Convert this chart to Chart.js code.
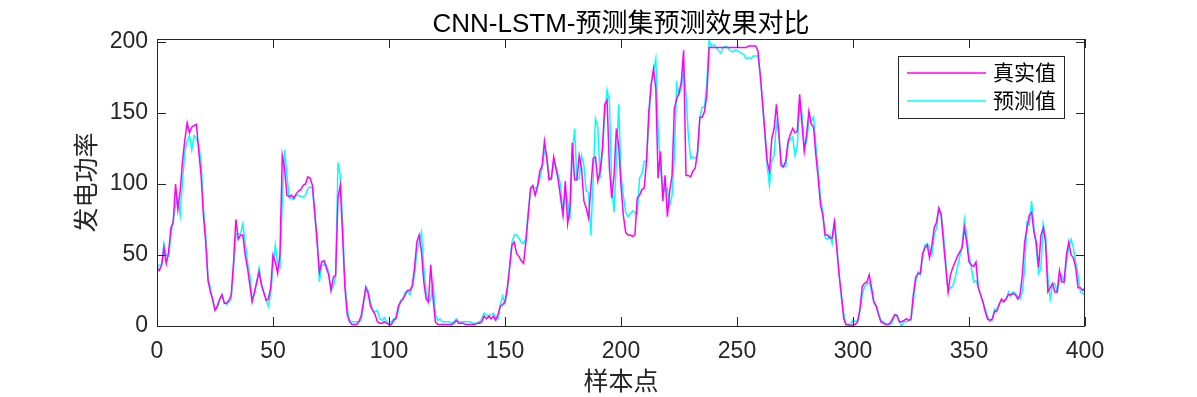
<!DOCTYPE html>
<html>
<head>
<meta charset="utf-8">
<script src="https://cdn.jsdelivr.net/npm/chart.js@4.4.1/dist/chart.umd.min.js"></script>
<style>
  body { margin: 0; background: #fff; }
  canvas { display: block; }
</style>
</head>
<body>
<canvas id="forecast-chart" width="1197" height="397"></canvas>
<script>
// textos
const chartTitle = "CNN-LSTM-预测集预测效果对比";
const xLabel = "样本点";
const yLabel = "发电功率";
const seriesNames = ["真实值", "预测值"];
const seriesColors = ["#ff00ff", "#00ffff"];

// ticks
const xTicks = [0, 50, 100, 150, 200, 250, 300, 350, 400];
const yTicks = [0, 50, 100, 150, 200];

// valores reais (magenta)
const realValues = [
  41, 39, 43, 55, 44, 52, 69, 73, 100, 82,
  95, 116, 131, 143, 136, 140, 141, 142, 123, 106,
  78, 59, 32, 24, 19, 11, 14, 19, 22, 16,
  16, 18, 22, 45, 75, 61, 64, 64, 50, 41,
  29, 17, 24, 31, 38, 29, 24, 18, 19, 27,
  50, 45, 37, 50, 120, 111, 92, 91, 92, 90,
  93, 95, 96, 99, 100, 105, 104, 99, 80, 59,
  38, 45, 46, 41, 36, 25, 34, 36, 90, 99,
  64, 27, 8, 3, 1, 1, 1, 3, 7, 17,
  27, 23, 14, 11, 8, 3, 2, 2, 3, 2,
  1, 1, 4, 5, 14, 17, 19, 22, 25, 25,
  28, 41, 59, 64, 52, 31, 19, 17, 43, 19,
  3, 1, 1, 1, 1, 1, 1, 1, 2, 4,
  2, 2, 2, 1, 1, 1, 1, 1, 2, 2,
  3, 7, 5, 7, 5, 7, 4, 8, 14, 15,
  17, 27, 41, 57, 59, 51, 49, 46, 44, 59,
  78, 97, 99, 92, 98, 109, 113, 130, 118, 103,
  104, 119, 111, 102, 90, 78, 102, 72, 83, 129,
  103, 103, 120, 111, 88, 83, 76, 97, 118, 119,
  102, 109, 125, 156, 159, 111, 90, 106, 139, 127,
  99, 78, 66, 64, 64, 63, 64, 90, 92, 96,
  97, 116, 151, 170, 181, 167, 104, 123, 88, 106,
  77, 95, 106, 153, 160, 164, 172, 194, 106, 106,
  105, 109, 111, 123, 147, 147, 151, 163, 196, 196,
  196, 196, 196, 196, 196, 196, 196, 196, 196, 196,
  196, 196, 196, 196, 196, 197, 197, 197, 197, 194,
  177, 158, 137, 116, 109, 132, 139, 156, 137, 113,
  112, 116, 130, 135, 139, 136, 137, 163, 142, 123,
  135, 151, 142, 140, 120, 104, 85, 78, 64, 64,
  62, 62, 73, 55, 36, 22, 5, 1, 1, 0,
  1, 1, 3, 12, 28, 30, 31, 36, 27, 17,
  14, 8, 3, 2, 1, 1, 2, 5, 8, 7,
  3, 3, 4, 5, 4, 5, 22, 34, 37, 37,
  51, 55, 57, 48, 57, 69, 73, 83, 78, 59,
  41, 24, 36, 41, 45, 49, 52, 55, 69, 59,
  45, 43, 42, 45, 27, 22, 17, 10, 5, 4,
  5, 10, 11, 15, 19, 17, 19, 22, 22, 23,
  22, 19, 22, 36, 59, 69, 78, 80, 66, 59,
  41, 64, 69, 59, 24, 27, 30, 24, 24, 39,
  31, 31, 50, 59, 50, 48, 41, 27, 27, 25,
  27
];

// valores previstos (ciano)
const predictedValues = [
  41, 43, 43, 58, 50, 49, 64, 75, 85, 90,
  78, 102, 123, 130, 134, 124, 134, 132, 127, 116,
  83, 64, 34, 27, 17, 12, 13, 18, 22, 17,
  15, 17, 19, 41, 64, 65, 65, 72, 59, 45,
  36, 19, 22, 31, 41, 30, 23, 19, 14, 23,
  41, 57, 43, 41, 88, 124, 106, 90, 90, 89,
  92, 92, 91, 91, 92, 97, 98, 97, 78, 64,
  31, 43, 43, 43, 38, 25, 28, 34, 115, 106,
  73, 31, 12, 4, 3, 3, 3, 3, 4, 15,
  28, 25, 17, 11, 10, 11, 5, 4, 6, 3,
  2, 3, 5, 6, 10, 18, 19, 24, 25, 22,
  27, 36, 52, 59, 66, 41, 24, 16, 19, 31,
  8, 4, 5, 3, 3, 3, 3, 2, 3, 5,
  3, 3, 3, 3, 3, 3, 2, 2, 2, 3,
  5, 9, 8, 7, 8, 9, 6, 5, 15, 21,
  16, 24, 43, 59, 64, 64, 62, 59, 58, 62,
  80, 95, 98, 97, 98, 104, 111, 123, 121, 104,
  103, 116, 111, 106, 99, 77, 97, 88, 75, 120,
  139, 103, 104, 120, 113, 95, 94, 64, 104, 146,
  140, 104, 123, 149, 166, 158, 99, 80, 116, 156,
  106, 92, 80, 77, 79, 81, 80, 79, 104, 107,
  116, 116, 144, 170, 179, 188, 139, 111, 99, 95,
  97, 85, 92, 120, 170, 163, 167, 181, 163, 135,
  118, 119, 118, 120, 147, 154, 154, 172, 201, 197,
  198, 196, 194, 192, 196, 197, 196, 194, 193, 194,
  194, 193, 192, 191, 188, 189, 188, 190, 190, 190,
  177, 156, 135, 113, 99, 116, 120, 143, 135, 116,
  112, 112, 127, 132, 133, 120, 127, 158, 149, 125,
  130, 144, 144, 147, 127, 109, 90, 80, 62, 61,
  64, 58, 76, 57, 38, 19, 9, 0, 0, 2,
  4, 3, 4, 10, 22, 28, 29, 31, 24, 16,
  14, 9, 4, 3, 2, 1, 1, 3, 7, 8,
  3, 0, 3, 3, 4, 4, 17, 31, 38, 36,
  48, 57, 58, 55, 50, 64, 69, 83, 79, 64,
  45, 24, 27, 28, 34, 41, 49, 55, 75, 64,
  50, 41, 31, 32, 27, 22, 17, 12, 7, 3,
  4, 12, 10, 16, 18, 17, 19, 24, 21, 24,
  23, 21, 19, 24, 41, 73, 71, 88, 69, 55,
  37, 41, 72, 64, 34, 19, 29, 30, 24, 31,
  36, 31, 45, 55, 61, 55, 45, 36, 24, 23,
  22
];

// fontes
const latinFont = '"Liberation Sans", Arial, sans-serif';
const cjkFont = '"Liberation Sans", "Noto Sans CJK SC", sans-serif';
const axisColor = "#262626";

function toPoints(values) {
  return values.map((value, index) => ({ x: index, y: value }));
}

// plugin: moldura, ticks para dentro, titulo, rotulos e legenda
const matlabFrame = {
  id: "matlabFrame",
  afterDraw(chart) {
    const { ctx, chartArea, scales } = chart;
    const { left, right, top, bottom } = chartArea;
    const tickLen = 9;

    ctx.save();
    ctx.strokeStyle = axisColor;
    ctx.lineWidth = 1;
    ctx.strokeRect(left + 0.5, top + 0.5, right - left - 1, bottom - top);

    ctx.beginPath();
    for (const tick of xTicks) {
      const px = Math.round(scales.x.getPixelForValue(tick)) + 0.5;
      ctx.moveTo(px, bottom);
      ctx.lineTo(px, bottom - tickLen);
      ctx.moveTo(px, top);
      ctx.lineTo(px, top + tickLen);
    }
    for (const tick of yTicks) {
      const py = Math.round(scales.y.getPixelForValue(tick)) + 0.5;
      ctx.moveTo(left, py);
      ctx.lineTo(left + tickLen, py);
      ctx.moveTo(right, py);
      ctx.lineTo(right - tickLen, py);
    }
    ctx.stroke();

    // titulo
    const centerX = (left + right) / 2;
    ctx.fillStyle = "#000";
    ctx.textAlign = "center";
    ctx.textBaseline = "alphabetic";
    ctx.font = "26px " + cjkFont;
    ctx.fillText(chartTitle, centerX, 32);

    // rotulos dos eixos
    ctx.fillStyle = axisColor;
    ctx.textBaseline = "middle";
    ctx.font = "25px " + cjkFont;
    ctx.fillText(xLabel, centerX, 383);
    ctx.save();
    ctx.translate(88, (top + bottom) / 2);
    ctx.rotate(-Math.PI / 2);
    ctx.fillText(yLabel, 0, 0);
    ctx.restore();

    // legenda
    const box = { x: 898, y: 56, w: 166, h: 62 };
    ctx.fillStyle = "#fff";
    ctx.fillRect(box.x, box.y, box.w, box.h);
    ctx.lineWidth = 1;
    ctx.strokeStyle = axisColor;
    ctx.strokeRect(box.x + 0.5, box.y + 0.5, box.w, box.h);
    ctx.font = "21px " + cjkFont;
    ctx.textAlign = "left";
    seriesNames.forEach((name, i) => {
      const rowY = 73 + i * 28;
      ctx.lineWidth = 1.5;
      ctx.strokeStyle = seriesColors[i];
      ctx.beginPath();
      ctx.moveTo(907, rowY);
      ctx.lineTo(986, rowY);
      ctx.stroke();
      ctx.fillStyle = "#000";
      ctx.fillText(name, 993, rowY + 1);
    });
    ctx.restore();
  },
};

const chartEl = document.getElementById("forecast-chart");

new Chart(chartEl, {
  type: "line",
  data: {
    datasets: [
      {
        label: seriesNames[0],
        data: toPoints(realValues),
        borderColor: seriesColors[0],
        borderWidth: 1.5,
        pointRadius: 0,
        tension: 0,
      },
      {
        label: seriesNames[1],
        data: toPoints(predictedValues),
        borderColor: seriesColors[1],
        borderWidth: 1.5,
        pointRadius: 0,
        tension: 0,
      },
    ],
  },
  options: {
    responsive: false,
    animation: false,
    events: [],
    layout: { padding: { left: 0, right: 112, top: 39, bottom: 0 } },
    plugins: {
      legend: { display: false },
      title: { display: false },
      tooltip: { enabled: false },
    },
    scales: {
      x: {
        type: "linear",
        min: 0,
        max: 400,
        afterFit: (scale) => { scale.height = 71; },
        afterBuildTicks: (scale) => { scale.ticks = xTicks.map((v) => ({ value: v })); },
        grid: { display: false, drawTicks: false },
        border: { display: false },
        ticks: {
          padding: 12,
          maxRotation: 0,
          autoSkip: false,
          color: axisColor,
          font: { family: latinFont, size: 23 },
        },
      },
      y: {
        min: 0,
        max: 202,
        afterFit: (scale) => { scale.width = 157; },
        afterBuildTicks: (scale) => { scale.ticks = yTicks.map((v) => ({ value: v })); },
        grid: { display: false, drawTicks: false },
        border: { display: false },
        ticks: {
          padding: 9,
          color: axisColor,
          font: { family: latinFont, size: 23 },
        },
      },
    },
  },
  plugins: [matlabFrame],
});
</script>
</body>
</html>
